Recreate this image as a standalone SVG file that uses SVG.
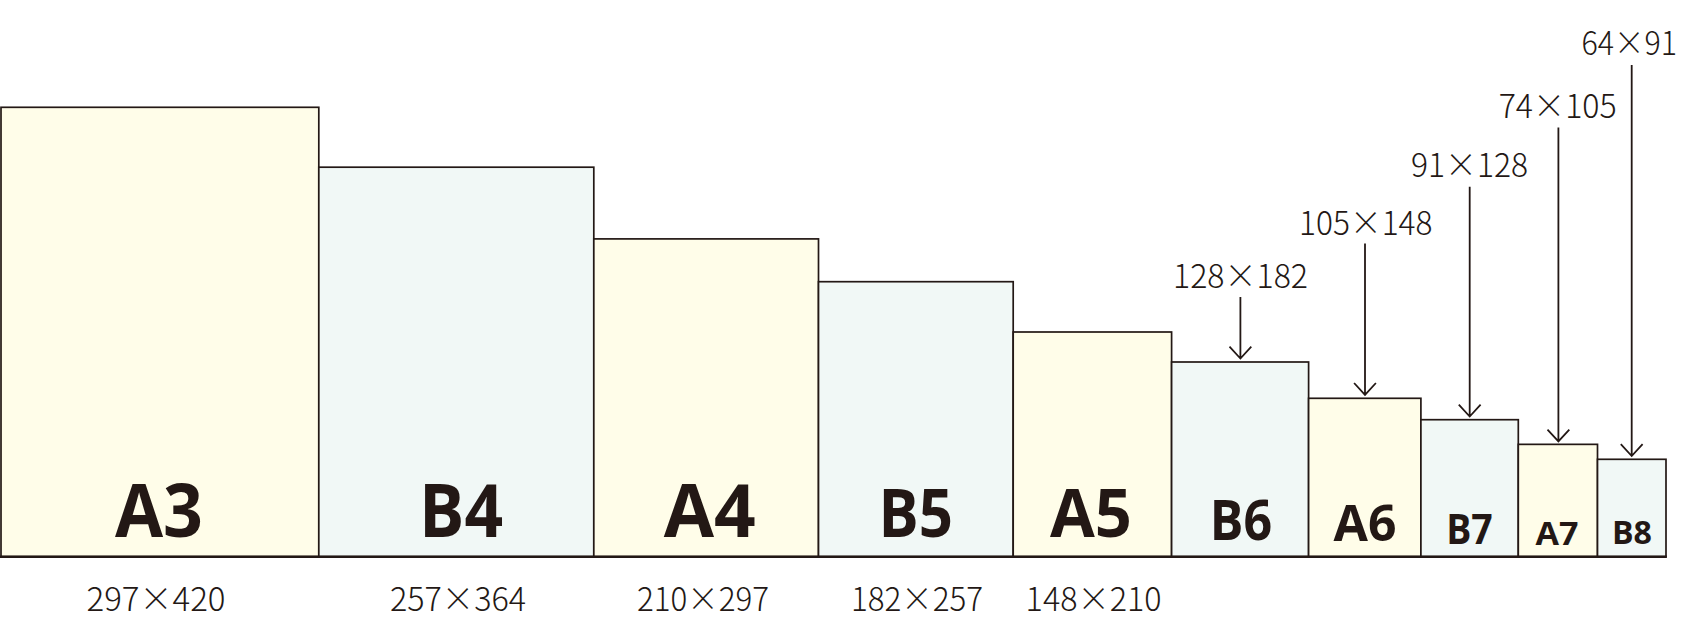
<svg xmlns="http://www.w3.org/2000/svg" width="1685" height="619" viewBox="0 0 1685 619">
<defs>
<style>
.a{fill:#fffde9;stroke:#231815;stroke-width:1.7}
.b{fill:#f1f8f6;stroke:#231815;stroke-width:1.7}
.lbl{font-family:"Open Sans","Noto Sans",sans-serif;font-weight:700;fill:#231815;text-anchor:middle}
.dim{font-family:"Noto Sans CJK JP","Noto Sans",sans-serif;font-weight:300;font-size:33px;fill:#231815;text-anchor:middle}
.ar{stroke:#231815;stroke-width:1.8;fill:none}
</style>
</defs>
<rect width="1685" height="619" fill="#ffffff"/>
<g id="A3"><rect class="a" x="1" y="107.3" width="317.8" height="449.4"/><text class="lbl" x="159" y="536.7" font-size="74" textLength="88" lengthAdjust="spacingAndGlyphs">A3</text><text class="dim" x="156" y="611" textLength="139" lengthAdjust="spacingAndGlyphs">297×420</text></g>
<g id="B4"><rect class="b" x="318.8" y="167.2" width="275" height="389.5"/><text class="lbl" x="461" y="536.7" font-size="74" textLength="84" lengthAdjust="spacingAndGlyphs">B4</text><text class="dim" x="458" y="611" textLength="136" lengthAdjust="spacingAndGlyphs">257×364</text></g>
<g id="A4"><rect class="a" x="593.8" y="238.9" width="224.7" height="317.8"/><text class="lbl" x="709.7" y="536.7" font-size="74" textLength="92" lengthAdjust="spacingAndGlyphs">A4</text><text class="dim" x="703" y="611" textLength="132" lengthAdjust="spacingAndGlyphs">210×297</text></g>
<g id="B5"><rect class="b" x="818.5" y="281.7" width="194.7" height="275"/><text class="lbl" x="915.8" y="536.7" font-size="66" textLength="74.5" lengthAdjust="spacingAndGlyphs">B5</text><text class="dim" x="917" y="611" textLength="132" lengthAdjust="spacingAndGlyphs">182×257</text></g>
<g id="A5"><rect class="a" x="1013.2" y="332" width="158.4" height="224.7"/><text class="lbl" x="1091" y="536.7" font-size="66" textLength="82" lengthAdjust="spacingAndGlyphs">A5</text><text class="dim" x="1093.6" y="611" textLength="136" lengthAdjust="spacingAndGlyphs">148×210</text></g>
<g id="B6"><rect class="b" x="1171.6" y="362" width="137" height="194.7"/><text class="lbl" x="1241" y="540" font-size="55" textLength="62.3" lengthAdjust="spacingAndGlyphs">B6</text><text class="dim" x="1240.5" y="288.2" textLength="135" lengthAdjust="spacingAndGlyphs">128×182</text></g>
<g id="A6"><rect class="a" x="1308.6" y="398.3" width="112.3" height="158.4"/><text class="lbl" x="1365" y="541" font-size="51" textLength="63" lengthAdjust="spacingAndGlyphs">A6</text><text class="dim" x="1365.8" y="234.9" textLength="133.5" lengthAdjust="spacingAndGlyphs">105×148</text></g>
<g id="B7"><rect class="b" x="1420.9" y="419.7" width="97.4" height="137"/><text class="lbl" x="1469.5" y="544" font-size="42" textLength="46.5" lengthAdjust="spacingAndGlyphs">B7</text><text class="dim" x="1469.5" y="176.5" textLength="117" lengthAdjust="spacingAndGlyphs">91×128</text></g>
<g id="A7"><rect class="a" x="1518.3" y="444.35" width="79.2" height="112.35"/><text class="lbl" x="1557" y="544.8" font-size="33" textLength="43" lengthAdjust="spacingAndGlyphs">A7</text><text class="dim" x="1557.7" y="117.6" textLength="118" lengthAdjust="spacingAndGlyphs">74×105</text></g>
<g id="B8"><rect class="b" x="1597.5" y="459.3" width="68.5" height="97.4"/><text class="lbl" x="1632" y="544" font-size="32" textLength="40" lengthAdjust="spacingAndGlyphs">B8</text><text class="dim" x="1629.3" y="54.5" textLength="95.5" lengthAdjust="spacingAndGlyphs">64×91</text></g>
<g id="connectors">
<line x1="0" y1="556.7" x2="1666.8" y2="556.7" stroke="#231815" stroke-width="2.4"/>
<path class="ar" d="M1240.4 296.9V358.5M1229.5 346.7L1240.4 358.5L1251.3 346.7"/>
<path class="ar" d="M1365 243.6V394.8M1354.1 383L1365 394.8L1375.9 383"/>
<path class="ar" d="M1469.7 186.7V416.5M1458.8 404.7L1469.7 416.5L1480.6 404.7"/>
<path class="ar" d="M1558.4 127.5V441.4M1547.5 429.6L1558.4 441.4L1569.3 429.6"/>
<path class="ar" d="M1631.7 65.1V456M1620.8 444.2L1631.7 456L1642.6 444.2"/>
</g>
</svg>
